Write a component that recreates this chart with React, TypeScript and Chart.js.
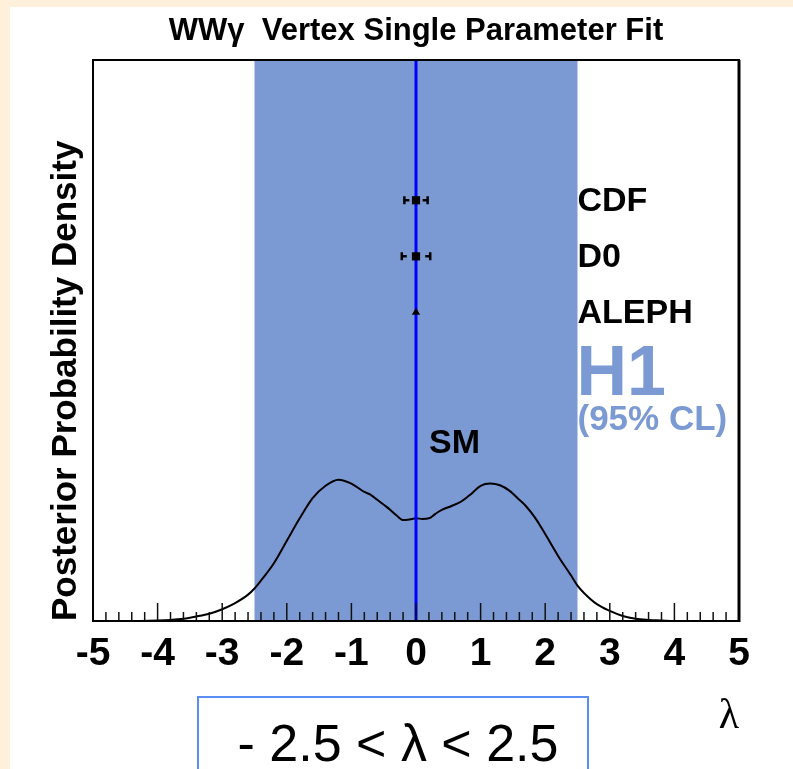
import React, { useEffect, useRef } from "react";
import { Chart, registerables } from "chart.js";

Chart.register(...registerables);

// ---- data ----
const lambdaGrid = [
  -5, -4.5, -4.0, -3.8, -3.6, -3.4, -3.2, -3.0, -2.8, -2.6, -2.5, -2.4, -2.2, -2.0, -1.8, -1.6, -1.4, -1.2,
  -1.0, -0.8, -0.7, -0.6, -0.45, -0.3, -0.2, -0.1, 0, 0.1, 0.2, 0.3, 0.4, 0.55, 0.7, 0.85, 1.0, 1.15, 1.3,
  1.45, 1.6, 1.7, 1.85, 2.0, 2.2, 2.4, 2.5, 2.6, 2.8, 3.0, 3.2, 3.4, 3.6, 3.8, 4.0, 4.5, 5,
];
const density = [
  0, 0, 0.001, 0.002, 0.004, 0.008, 0.013, 0.021, 0.032, 0.047, 0.058, 0.072, 0.103, 0.143, 0.183, 0.219,
  0.241, 0.252, 0.245, 0.23, 0.225, 0.216, 0.203, 0.188, 0.18, 0.181, 0.183, 0.182, 0.183, 0.191, 0.198,
  0.205, 0.213, 0.226, 0.241, 0.245, 0.242, 0.232, 0.216, 0.205, 0.183, 0.155, 0.116, 0.081, 0.063, 0.05,
  0.03, 0.018, 0.009, 0.004, 0.002, 0.001, 0, 0, 0,
];
const expNames = ["CDF", "D0", "ALEPH"];
const expLambda = [0, 0, 0];
const expLevel = [0.75, 0.65, 0.55];
const expErr = [0.18, 0.22, 0];
const xTickValues = [-5, -4, -3, -2, -1, 0, 1, 2, 3, 4, 5];
const bandRange = [-2.5, 2.5];
const smValue = 0;
const titleText = "WWγ  Vertex Single Parameter Fit";
const yTitleText = "Posterior Probability Density";
const xTitleText = "λ";
const h1Text = "H1";
const clText = "(95% CL)";
const smText = "SM";
const rangeText = "- 2.5 < λ < 2.5";

const SANS = "'Liberation Sans', Arial, Helvetica, sans-serif";
const SERIF = "'Liberation Serif', 'Times New Roman', serif";
const BAND = "#7b9ad3";

const decorPlugin = {
  id: "decor",
  beforeDraw(chart: any) {
    const { ctx, width, height } = chart;
    ctx.save();
    ctx.fillStyle = "#fef0da";
    ctx.fillRect(0, 0, width, height);
    ctx.fillStyle = "#ffffff";
    ctx.fillRect(10, 7, width - 10, height - 7);
    ctx.restore();
  },
  beforeDatasetsDraw(chart: any) {
    const { ctx, chartArea } = chart;
    const xs = chart.scales.x;
    const x0 = xs.getPixelForValue(bandRange[0]);
    const x1 = xs.getPixelForValue(bandRange[1]);
    ctx.save();
    ctx.fillStyle = BAND;
    ctx.fillRect(x0, chartArea.top, x1 - x0, chartArea.bottom - chartArea.top);
    ctx.restore();
  },
  afterDatasetsDraw(chart: any) {
    const { ctx } = chart;
    const xs = chart.scales.x;
    const ys = chart.scales.y;
    ctx.save();
    ctx.strokeStyle = "#000";
    ctx.lineWidth = 2.5;
    expErr.forEach((e, i) => {
      if (e <= 0) return;
      const y = ys.getPixelForValue(expLevel[i]);
      const xl = xs.getPixelForValue(expLambda[i] - e);
      const xr = xs.getPixelForValue(expLambda[i] + e);
      ctx.beginPath();
      ctx.moveTo(xl, y - 4);
      ctx.lineTo(xl, y + 4);
      ctx.moveTo(xl, y);
      ctx.lineTo(xl + 5, y);
      ctx.moveTo(xr, y - 4);
      ctx.lineTo(xr, y + 4);
      ctx.moveTo(xr, y);
      ctx.lineTo(xr - 5, y);
      ctx.stroke();
    });
    ctx.restore();
  },
  afterDraw(chart: any) {
    const { ctx, chartArea } = chart;
    const xs = chart.scales.x;
    const ys = chart.scales.y;
    const { left, right, top, bottom } = chartArea;
    ctx.save();
    // title
    ctx.fillStyle = "#000";
    ctx.font = `bold 31px ${SANS}`;
    ctx.textAlign = "center";
    ctx.textBaseline = "alphabetic";
    ctx.fillText(titleText, (left + right) / 2, 40);

    // minor / major ticks pointing inward
    ctx.strokeStyle = "#111";
    ctx.lineWidth = 1.5;
    for (let k = -25; k <= 25; k++) {
      const v = k / 5;
      const px = xs.getPixelForValue(v);
      const len = k % 5 === 0 ? 18 : 9;
      ctx.beginPath();
      ctx.moveTo(px, bottom);
      ctx.lineTo(px, bottom - len);
      ctx.stroke();
    }
    // frame
    ctx.strokeStyle = "#000";
    ctx.lineWidth = 2;
    ctx.strokeRect(left, top, right - left, bottom - top);
    ctx.lineWidth = 3;
    ctx.beginPath();
    ctx.moveTo(right, top);
    ctx.lineTo(right, bottom + 1);
    ctx.stroke();

    // experiment labels
    const labelX = xs.getPixelForValue(bandRange[1]);
    ctx.fillStyle = "#000";
    ctx.font = `bold 34px ${SANS}`;
    ctx.textAlign = "left";
    expNames.forEach((n, i) => {
      const y = ys.getPixelForValue(expLevel[i]);
      ctx.fillText(n, labelX, y + 11);
    });
    // H1 (95% CL)
    ctx.fillStyle = BAND;
    ctx.font = `bold 70px ${SANS}`;
    ctx.fillText(h1Text, labelX - 1, 395);
    ctx.font = `bold 35px ${SANS}`;
    ctx.fillText(clText, labelX, 430);
    // SM
    ctx.fillStyle = "#000";
    ctx.font = `bold 34px ${SANS}`;
    ctx.fillText(smText, xs.getPixelForValue(smValue) + 13, 453);

    // range box
    ctx.strokeStyle = "#5b8ef2";
    ctx.lineWidth = 2;
    ctx.strokeRect(198, 697, 390, 100);
    ctx.fillStyle = "#000";
    ctx.font = `52px ${SANS}`;
    ctx.textAlign = "center";
    ctx.fillText(rangeText, 398, 761);
    ctx.restore();
  },
};

export default function App() {
  const ref = useRef<HTMLCanvasElement | null>(null);
  useEffect(() => {
    if (!ref.current) return;
    const curve = lambdaGrid.map((x, i) => ({ x, y: density[i] }));
    const rectPts = expNames
      .map((_, i) => ({ x: expLambda[i], y: expLevel[i], e: expErr[i] }))
      .filter((p) => p.e > 0)
      .map((p) => ({ x: p.x, y: p.y }));
    const triPts = expNames
      .map((_, i) => ({ x: expLambda[i], y: expLevel[i], e: expErr[i] }))
      .filter((p) => p.e === 0)
      .map((p) => ({ x: p.x, y: p.y }));
    const chart = new Chart(ref.current, {
      type: "scatter",
      data: {
        datasets: [
          {
            label: "points",
            data: rectPts,
            pointStyle: "rect",
            pointRadius: 5.8,
            backgroundColor: "#000",
            borderColor: "#000",
            borderWidth: 0,
            showLine: false,
          },
          {
            label: "aleph",
            data: triPts,
            pointStyle: "triangle",
            pointRadius: 4.8,
            backgroundColor: "#000",
            borderColor: "#000",
            borderWidth: 0,
            showLine: false,
          },
          {
            label: "SM",
            data: [
              { x: smValue, y: 0 },
              { x: smValue, y: 1 },
            ],
            showLine: true,
            borderColor: "#0000ff",
            borderWidth: 3,
            pointRadius: 0,
          },
          {
            label: "posterior",
            data: curve,
            showLine: true,
            borderColor: "#000",
            borderWidth: 2,
            pointRadius: 0,
            cubicInterpolationMode: "monotone",
          },
        ],
      } as any,
      options: {
        animation: false,
        responsive: false,
        devicePixelRatio: 1,
        layout: { padding: { left: 0, right: 54, top: 60, bottom: 0 } },
        plugins: {
          legend: { display: false },
          tooltip: { enabled: false },
          title: { display: false },
        },
        scales: {
          x: {
            type: "linear",
            position: "bottom",
            min: -5,
            max: 5,
            grid: { display: false, drawTicks: false },
            border: { display: false },
            afterBuildTicks: (s: any) => {
              s.ticks = xTickValues.map((v) => ({ value: v }));
            },
            afterFit: (s: any) => {
              s.height = 148;
            },
            ticks: {
              autoSkip: false,
              maxRotation: 0,
              padding: 10,
              color: "#000",
              font: { family: SANS, size: 39, weight: "bold" },
              callback: (v: any) => String(v),
            },
            title: {
              display: true,
              text: xTitleText,
              align: "end",
              color: "#000",
              font: { family: SERIF, size: 42 },
              padding: { top: 0, bottom: 27 },
            },
          },
          y: {
            type: "linear",
            min: 0,
            max: 1,
            grid: { display: false, drawTicks: false },
            border: { display: false },
            ticks: { display: false },
            afterFit: (s: any) => {
              s.width = 93;
            },
            title: {
              display: true,
              text: yTitleText,
              align: "start",
              color: "#000",
              font: { family: SANS, size: 35, weight: "bold" },
              padding: { top: 45, bottom: 0 },
            },
          },
        },
      } as any,
      plugins: [decorPlugin],
    });
    return () => chart.destroy();
  }, []);
  return (
    <div style={{ position: "absolute", left: 0, top: 0, width: 793, height: 769 }}>
      <canvas ref={ref} width={793} height={769} style={{ display: "block" }} />
    </div>
  );
}
